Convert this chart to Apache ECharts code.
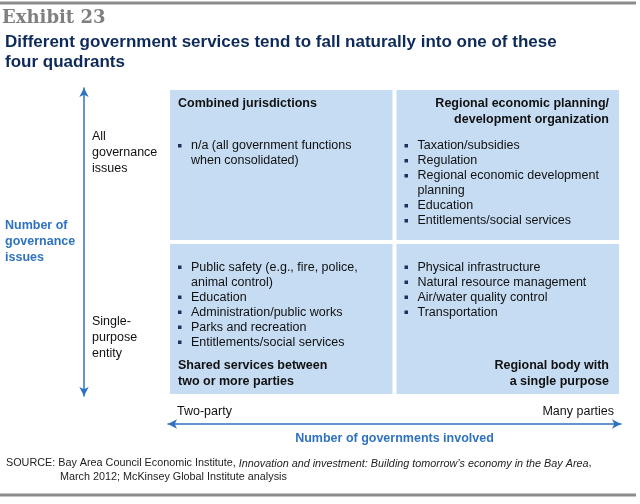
<!DOCTYPE html>
<html>
<head>
    <meta charset="utf-8">
    <title>Exhibit 23</title>
    <script src="https://cdn.jsdelivr.net/npm/echarts@6/dist/echarts.min.js"></script>
    <style>
        html, body {margin: 0; padding: 0; background: #fff;}
        #chart {width: 640px; height: 504px;}
    </style>
</head>
<body>
<div id="chart"></div>
<script>
    // quadrants: [x0, y0, x1, y1] in axis units (x: governments, y: issues)
    let quadrantBounds = [
        [0, 1, 1, 2],
        [1, 1, 2, 2],
        [0, 0, 1, 1],
        [1, 0, 2, 1]
    ];
    let quadrantTitles = [
        'Combined jurisdictions',
        'Regional economic planning/\ndevelopment organization',
        'Shared services between\ntwo or more parties',
        'Regional body with\na single purpose'
    ];
    // title at top or bottom, aligned left or right
    let titlePlace = ['top-left', 'top-right', 'bottom-left', 'bottom-right'];
    let quadrantItems = [
        ['n/a (all government functions\nwhen consolidated)'],
        ['Taxation/subsidies', 'Regulation', 'Regional economic development\nplanning', 'Education', 'Entitlements/social services'],
        ['Public safety (e.g., fire, police,\nanimal control)', 'Education', 'Administration/public works', 'Parks and recreation', 'Entitlements/social services'],
        ['Physical infrastructure', 'Natural resource management', 'Air/water quality control', 'Transportation']
    ];
    let yTickLabels = {'1.58': 'All\ngovernance\nissues', '0.38': 'Single-\npurpose\nentity'};
    let xTickLabels = {'0': '{l|Two-party}', '2': '{r|Many parties}'};

    let blue = '#2f73c0';
    let boxColor = '#c6dcf3';
    let font = '"Liberation Sans", Arial, sans-serif';

    let chart = echarts.init(document.getElementById('chart'), null, {renderer: 'canvas'});

    function renderQuadrant(params, api) {
        let i = api.value(4);
        let p0 = api.coord([api.value(0), api.value(3)]);
        let p1 = api.coord([api.value(2), api.value(1)]);
        let left = p0[0] + 2, top = p0[1] + 2, right = p1[0] - 2, bottom = p1[1] - 2;
        let place = titlePlace[i].split('-');
        let children = [{
            type: 'rect',
            shape: {x: left, y: top, width: right - left, height: bottom - top},
            style: {fill: boxColor}
        }];
        let titleLines = quadrantTitles[i].split('\n').length;
        children.push({
            type: 'text',
            style: {
                text: quadrantTitles[i],
                x: place[1] === 'left' ? left + 8 : right - 10,
                y: place[0] === 'top' ? top + 6 : bottom - 4 - titleLines * 16,
                align: place[1],
                verticalAlign: 'top',
                font: 'bold 12.5px ' + font,
                lineHeight: 16,
                fill: '#111'
            }
        });
        let y = place[0] === 'top' ? top + 48.5 : top + 16;
        quadrantItems[i].forEach(function (item) {
            let n = item.split('\n').length;
            children.push({
                type: 'rect',
                shape: {x: left + 8, y: y + 5.5, width: 3.5, height: 3.5},
                style: {fill: '#1c2f5e'}
            });
            children.push({
                type: 'text',
                style: {
                    text: item,
                    x: left + 21,
                    y: y,
                    verticalAlign: 'top',
                    font: '12.5px ' + font,
                    lineHeight: 15,
                    fill: '#111'
                }
            });
            y += n * 15;
        });
        return {type: 'group', children: children};
    }

    let option = {
        animation: false,
        title: [{
            text: 'Exhibit 23',
            left: 2,
            top: 8,
            padding: 0,
            textStyle: {fontFamily: '"DejaVu Serif", serif', fontWeight: 'bold', fontSize: 18, color: '#7f7f7f', lineHeight: 20}
        }, {
            text: 'Different government services tend to fall naturally into one of these\nfour quadrants',
            left: 5,
            top: 32,
            padding: 0,
            textStyle: {fontFamily: font, fontWeight: 'bold', fontSize: 17, color: '#0e2a5a', lineHeight: 20}
        }],
        grid: {left: 168, right: 19, top: 88, bottom: 108},
        xAxis: {
            type: 'value',
            min: 0,
            max: 2,
            interval: 1,
            offset: 28,
            name: 'Number of governments involved',
            nameLocation: 'middle',
            nameGap: 8,
            nameTextStyle: {fontFamily: font, fontWeight: 'bold', fontSize: 12.5, color: blue, verticalAlign: 'top'},
            splitLine: {show: false},
            axisTick: {show: false},
            axisLine: {show: true, onZero: false, symbol: ['arrow', 'arrow'], symbolSize: [7, 9], lineStyle: {color: blue, width: 1.5}},
            axisLabel: {
                inside: true,
                margin: 6,
                alignMinLabel: 'left',
                alignMaxLabel: 'right',
                formatter: function (v) { return xTickLabels[String(v)] || ''; },
                rich: {
                    l: {fontFamily: font, fontSize: 12.5, color: '#111', padding: [0, 0, 0, 9]},
                    r: {fontFamily: font, fontSize: 12.5, color: '#111', padding: [0, 7, 0, 0]}
                }
            }
        },
        yAxis: {
            type: 'value',
            min: 0,
            max: 2,
            interval: 0.02,
            offset: 84,
            name: 'Number of\ngovernance\nissues',
            nameLocation: 'middle',
            nameRotate: 0,
            nameGap: 79,
            nameTextStyle: {fontFamily: font, fontWeight: 'bold', fontSize: 12.5, color: blue, lineHeight: 16, align: 'left'},
            splitLine: {show: false},
            axisTick: {show: false},
            axisLine: {show: true, onZero: false, symbol: ['arrow', 'arrow'], symbolSize: [7, 9], lineStyle: {color: blue, width: 1.5}},
            axisLabel: {
                inside: true,
                margin: 8,
                align: 'left',
                fontFamily: font,
                fontSize: 12.5,
                lineHeight: 16,
                color: '#111',
                formatter: function (v) { return yTickLabels[String(Math.round(v * 100) / 100)] || ''; }
            }
        },
        graphic: [
            {type: 'line', shape: {x1: 0, y1: 3, x2: 636, y2: 3}, style: {stroke: '#8c8c8c', lineWidth: 3}},
            {type: 'line', shape: {x1: 0, y1: 495, x2: 636, y2: 495}, style: {stroke: '#8c8c8c', lineWidth: 3}},
            {
                type: 'text', left: 6, top: 458,
                style: {
                    text: 'SOURCE: Bay Area Council Economic Institute, {i|Innovation and investment: Building tomorrow’s economy in the Bay Area},',
                    font: '10.8px ' + font,
                    fill: '#222',
                    rich: {i: {fontStyle: 'italic', fontFamily: font, fontSize: 10.8, fill: '#222'}}
                }
            },
            {
                type: 'text', left: 60, top: 472,
                style: {text: 'March 2012; McKinsey Global Institute analysis', font: '10.8px ' + font, fill: '#222'}
            }
        ],
        series: [{
            type: 'custom',
            renderItem: renderQuadrant,
            coordinateSystem: 'cartesian2d',
            encode: {x: [0, 2], y: [1, 3]},
            data: quadrantBounds.map(function (b, i) { return b.concat(i); }),
            silent: true
        }]
    };
    chart.setOption(option);
</script>
</body>
</html>
